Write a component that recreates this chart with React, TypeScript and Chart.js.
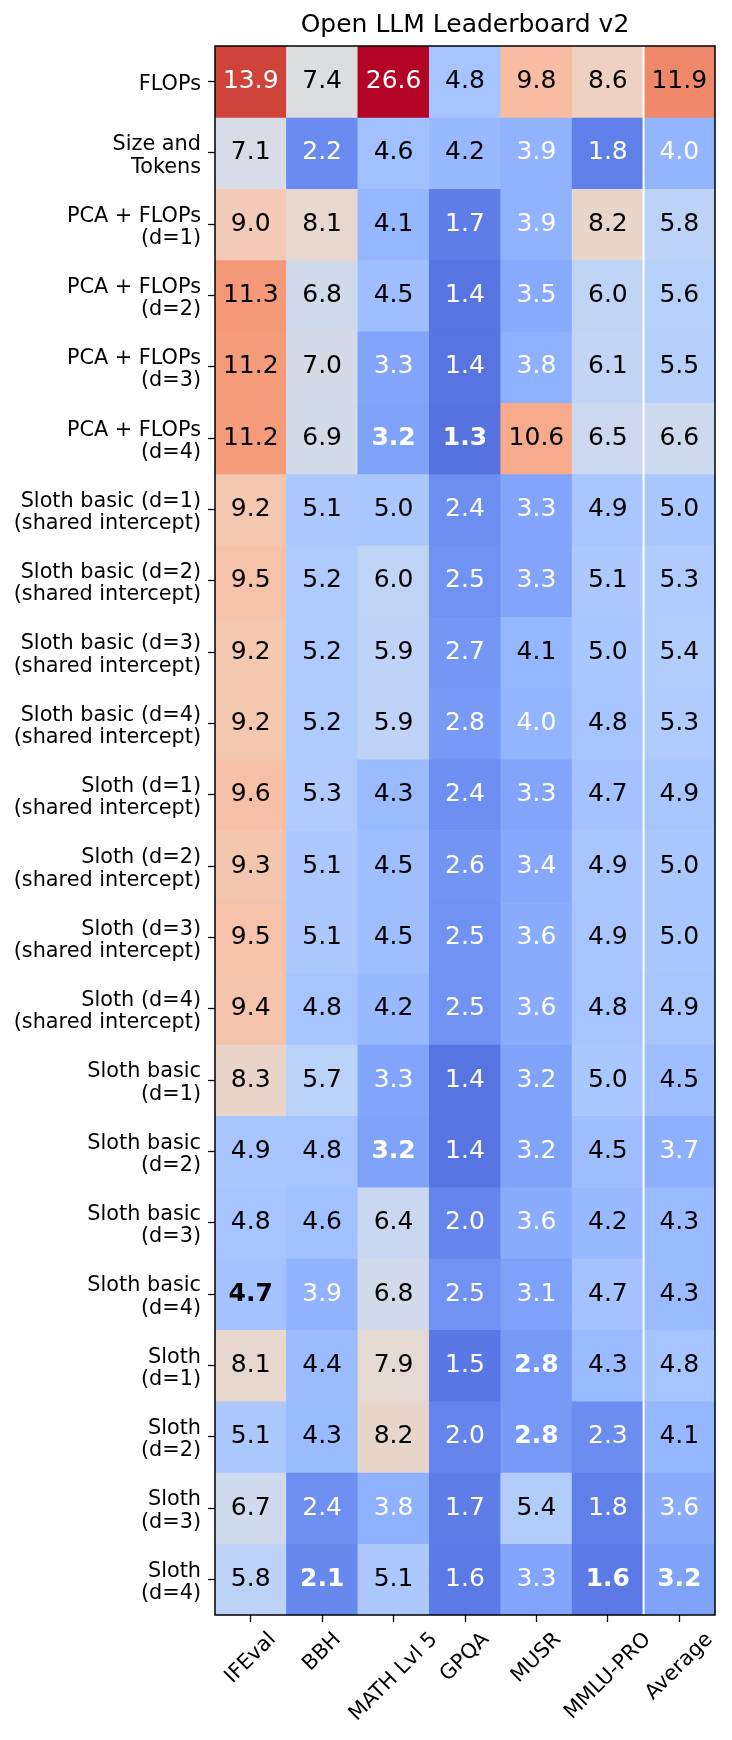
import React, { useEffect, useRef } from 'react';
import { Chart, registerables } from 'chart.js';

Chart.register(...registerables);

const FONT = '"DejaVu Sans", "Liberation Sans", sans-serif';

const title = 'Open LLM Leaderboard v2';

const benchmarks = ['IFEval', 'BBH', 'MATH Lvl 5', 'GPQA', 'MUSR', 'MMLU-PRO', 'Average'];

const methods: string[][] = [
  ['FLOPs'],
  ['Size and', 'Tokens'],
  ['PCA + FLOPs', '(d=1)'],
  ['PCA + FLOPs', '(d=2)'],
  ['PCA + FLOPs', '(d=3)'],
  ['PCA + FLOPs', '(d=4)'],
  ['Sloth basic (d=1)', '(shared intercept)'],
  ['Sloth basic (d=2)', '(shared intercept)'],
  ['Sloth basic (d=3)', '(shared intercept)'],
  ['Sloth basic (d=4)', '(shared intercept)'],
  ['Sloth (d=1)', '(shared intercept)'],
  ['Sloth (d=2)', '(shared intercept)'],
  ['Sloth (d=3)', '(shared intercept)'],
  ['Sloth (d=4)', '(shared intercept)'],
  ['Sloth basic', '(d=1)'],
  ['Sloth basic', '(d=2)'],
  ['Sloth basic', '(d=3)'],
  ['Sloth basic', '(d=4)'],
  ['Sloth', '(d=1)'],
  ['Sloth', '(d=2)'],
  ['Sloth', '(d=3)'],
  ['Sloth', '(d=4)'],
];

const ifeval = [13.9, 7.1, 9.0, 11.3, 11.2, 11.2, 9.2, 9.5, 9.2, 9.2, 9.6, 9.3, 9.5, 9.4, 8.3, 4.9, 4.8, 4.7, 8.1, 5.1, 6.7, 5.8];
const bbh = [7.4, 2.2, 8.1, 6.8, 7.0, 6.9, 5.1, 5.2, 5.2, 5.2, 5.3, 5.1, 5.1, 4.8, 5.7, 4.8, 4.6, 3.9, 4.4, 4.3, 2.4, 2.1];
const mathLvl5 = [26.6, 4.6, 4.1, 4.5, 3.3, 3.2, 5.0, 6.0, 5.9, 5.9, 4.3, 4.5, 4.5, 4.2, 3.3, 3.2, 6.4, 6.8, 7.9, 8.2, 3.8, 5.1];
const gpqa = [4.8, 4.2, 1.7, 1.4, 1.4, 1.3, 2.4, 2.5, 2.7, 2.8, 2.4, 2.6, 2.5, 2.5, 1.4, 1.4, 2.0, 2.5, 1.5, 2.0, 1.7, 1.6];
const musr = [9.8, 3.9, 3.9, 3.5, 3.8, 10.6, 3.3, 3.3, 4.1, 4.0, 3.3, 3.4, 3.6, 3.6, 3.2, 3.2, 3.6, 3.1, 2.8, 2.8, 5.4, 3.3];
const mmluPro = [8.6, 1.8, 8.2, 6.0, 6.1, 6.5, 4.9, 5.1, 5.0, 4.8, 4.7, 4.9, 4.9, 4.8, 5.0, 4.5, 4.2, 4.7, 4.3, 2.3, 1.8, 1.6];
const average = [11.9, 4.0, 5.8, 5.6, 5.5, 6.6, 5.0, 5.3, 5.4, 5.3, 4.9, 5.0, 5.0, 4.9, 4.5, 3.7, 4.3, 4.3, 4.8, 4.1, 3.6, 3.2];

const columns = [ifeval, bbh, mathLvl5, gpqa, musr, mmluPro, average];

// colour normalisation
const VMIN = 0;
const VMAX = 15;

// Moreland cool-warm table (33 entries)
const COOLWARM: number[][] = [
  [59, 76, 192], [68, 90, 204], [77, 104, 215], [87, 117, 225], [98, 130, 234], [108, 142, 241],
  [119, 154, 247], [130, 165, 251], [141, 176, 254], [152, 185, 255], [163, 194, 255], [174, 201, 253],
  [184, 208, 249], [194, 213, 244], [204, 217, 238], [213, 219, 230], [221, 221, 221], [229, 216, 209],
  [236, 211, 197], [241, 204, 185], [245, 196, 173], [247, 187, 160], [247, 177, 148], [247, 166, 135],
  [244, 154, 123], [241, 141, 111], [236, 127, 99], [229, 112, 88], [222, 96, 77], [213, 80, 66],
  [203, 62, 56], [192, 40, 47], [180, 4, 38],
];

function norm(v: number) {
  return Math.min(1, Math.max(0, (v - VMIN) / (VMAX - VMIN)));
}

function coolwarm(t: number) {
  const pos = t * (COOLWARM.length - 1);
  const i = Math.min(COOLWARM.length - 2, Math.floor(pos));
  const f = pos - i;
  const a = COOLWARM[i];
  const b = COOLWARM[i + 1];
  const c = a.map((x, k) => Math.round(x + (b[k] - x) * f));
  return `rgb(${c[0]},${c[1]},${c[2]})`;
}

function textColor(v: number) {
  const t = norm(v);
  return t < 0.27 || t > 0.87 ? '#ffffff' : '#000000';
}

const columnMins = columns.map((col) => Math.min(...col));

const CELL_SPAN = 1;

const heatPlugin = {
  id: 'heatOverlay',
  afterDatasetsDraw(chart: any) {
    const ctx: CanvasRenderingContext2D = chart.ctx;
    const area = chart.chartArea;
    const xs = chart.scales.x;
    ctx.save();

    // white separator before the Average column
    const n = benchmarks.length;
    const sepX = (xs.getPixelForTick(n - 2) + xs.getPixelForTick(n - 1)) / 2;
    ctx.strokeStyle = '#ffffff';
    ctx.lineWidth = 2;
    ctx.beginPath();
    ctx.moveTo(sepX, area.top);
    ctx.lineTo(sepX, area.bottom);
    ctx.stroke();

    // cell annotations
    ctx.textAlign = 'center';
    ctx.textBaseline = 'middle';
    chart.data.datasets.forEach((_ds: any, i: number) => {
      const meta = chart.getDatasetMeta(i);
      meta.data.forEach((el: any, j: number) => {
        const v = columns[j][i];
        const p = el.getCenterPoint();
        const bold = v === columnMins[j];
        ctx.font = `${bold ? 'bold ' : ''}25px ${FONT}`;
        ctx.fillStyle = textColor(v);
        ctx.fillText(v.toFixed(1), p.x, p.y);
      });
    });

    // frame
    ctx.strokeStyle = '#000000';
    ctx.lineWidth = 1.5;
    ctx.strokeRect(area.left, area.top, area.right - area.left, area.bottom - area.top);

    // rotated x tick labels, centred on their ticks
    ctx.font = `20.8px ${FONT}`;
    ctx.fillStyle = '#000000';
    const h = 20.8;
    benchmarks.forEach((lab, i) => {
      const x = xs.getPixelForTick(i);
      const w = ctx.measureText(lab).width;
      const cy = xs.top + 14 + ((w + h) * Math.SQRT1_2) / 2;
      ctx.save();
      ctx.translate(x, cy);
      ctx.rotate(-Math.PI / 4);
      ctx.textAlign = 'center';
      ctx.textBaseline = 'middle';
      ctx.fillText(lab, 0, 0);
      ctx.restore();
    });

    ctx.restore();
  },
};

export default function App() {
  const ref = useRef<HTMLCanvasElement>(null);

  useEffect(() => {
    if (!ref.current) return;
    const tickGrid = {
      display: true,
      drawOnChartArea: false,
      drawTicks: true,
      tickLength: 7,
      tickColor: '#000000',
      tickWidth: 1.3,
      offset: false,
    };
    const chart = new Chart(ref.current, {
      type: 'bar',
      data: {
        labels: benchmarks,
        datasets: methods.map((m, i) => ({
          label: m.join(' '),
          data: benchmarks.map(() => CELL_SPAN),
          backgroundColor: columns.map((col) => coolwarm(norm(col[i]))),
          borderWidth: 0,
          barPercentage: 1,
          categoryPercentage: 1,
          yAxisID: 'y',
          xAxisID: 'x',
        })),
      },
      options: {
        animation: false,
        responsive: true,
        maintainAspectRatio: false,
        layout: { padding: { left: 0, right: 17, top: 0, bottom: 0 } },
        plugins: {
          legend: { display: false },
          tooltip: { enabled: false },
          title: {
            display: true,
            text: title,
            fullSize: false,
            color: '#000000',
            font: { family: FONT, size: 25, weight: 'normal', lineHeight: 1.2 },
            padding: { top: 10, bottom: 6 },
          },
        },
        scales: {
          x: {
            type: 'category',
            labels: benchmarks,
            offset: true,
            stacked: true,
            grid: tickGrid,
            border: { display: false },
            ticks: { display: false },
            afterFit: (s: any) => {
              s.height = 125;
            },
          },
          y: {
            type: 'linear',
            display: false,
            min: 0,
            max: methods.length,
            reverse: true,
            stacked: true,
          },
          yLabel: {
            type: 'category',
            labels: methods as any,
            position: 'left',
            offset: true,
            grid: tickGrid,
            border: { display: false },
            ticks: {
              autoSkip: false,
              color: '#000000',
              padding: 7,
              labelOffset: 3,
              font: { family: FONT, size: 20.8, lineHeight: 1.07 },
            },
            afterFit: (s: any) => {
              s.width = 215;
            },
          },
        } as any,
      },
      plugins: [heatPlugin],
    } as any);
    return () => chart.destroy();
  }, []);

  return (
    <div style={{ position: 'absolute', left: 0, top: 0, width: 732, height: 1740 }}>
      <canvas ref={ref} />
    </div>
  );
}
